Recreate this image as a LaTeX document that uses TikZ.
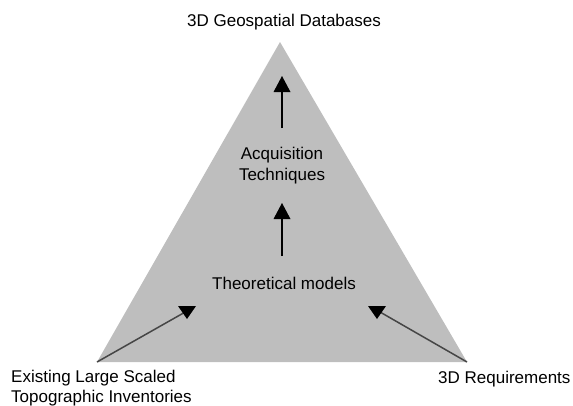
\documentclass[tikz,border=0pt]{standalone}
\usepackage{fontspec}
\setmainfont{Liberation Sans}
\definecolor{trifill}{RGB}{190,190,190}
\definecolor{linegray}{RGB}{70,70,70}
\begin{document}
\begin{tikzpicture}[x=1pt,y=-1pt,
  lbl/.style={font=\fontsize{17}{20}\selectfont, inner sep=0pt, align=center},
  head/.style={fill=black, draw=none},
  shaft/.style={draw=black, line width=1.3pt},
  diag/.style={draw=linegray, line width=1.5pt}]
\useasboundingbox (0,0) rectangle (573,405);
% triangle
\coordinate (apex) at (280,42);
\coordinate (bl) at (97,362);
\coordinate (br) at (467,362);
\fill[trifill] (apex) -- (bl) -- (br) -- cycle;
% labels
\node[lbl] (geo) at (284,22) {3D Geospatial Databases};
\node[lbl] (acq) at (282,166) {Acquisition\\[1pt]Techniques};
\node[lbl] (theo) at (284,283) {Theoretical models};
\node[lbl, align=left, anchor=west] (exist) at (11,388) {Existing Large Scaled\\Topographic Inventories};
\node[lbl, anchor=west] (req) at (438,379) {3D Requirements};
% upper arrow
\coordinate (a1s) at (282,128);
\coordinate (a1e) at (282,88);
\draw[shaft] (a1s) -- (a1e);
\fill[head] (282,76) -- (273.5,92) -- (290.5,92) -- cycle;
% middle arrow
\coordinate (a2s) at (282,256);
\coordinate (a2e) at (282,215);
\draw[shaft] (a2s) -- (a2e);
\fill[head] (282,203) -- (273.5,219) -- (290.5,219) -- cycle;
% left diagonal
\coordinate (lend) at (187,311);
\draw[diag] (bl) -- (lend);
\fill[head] (178,306) -- (196,306) -- (187,319) -- cycle;
% right diagonal
\coordinate (rend) at (380,312);
\draw[diag] (br) -- (rend);
\fill[head] (368,306) -- (386,306) -- (377,319) -- cycle;
\end{tikzpicture}
\end{document}
